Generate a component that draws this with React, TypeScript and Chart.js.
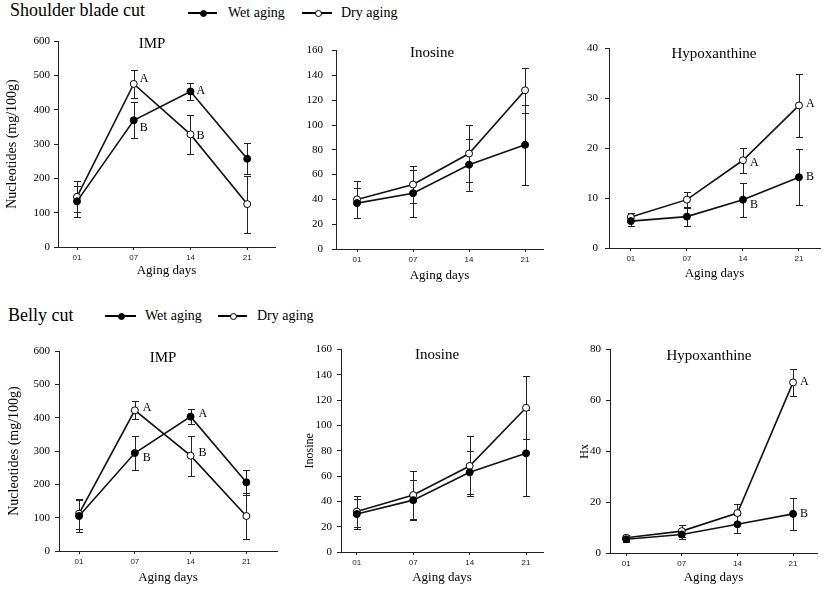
import React, { useEffect, useRef } from 'react';
import { Chart, registerables } from 'chart.js';

Chart.register(...registerables);

// ---------- data ----------
const days = ['01', '07', '14', '21'];
const dayIndex = [0, 1, 2, 3];

// Shoulder blade cut
const shImpWet = [133, 369, 453, 257];
const shImpWetErr = [45, 52, 26, 45];
const shImpDry = [146, 475, 328, 125];
const shImpDryErr = [45, 40, 57, 83];
const shImpWetLetters = ['', 'B', 'A', ''];
const shImpDryLetters = ['', 'A', 'B', ''];

const shInoWet = [37, 45, 68, 84];
const shInoWetErr = [12, 19, 21, 32];
const shInoDry = [40, 52, 77, 128];
const shInoDryErr = [15, 15, 23, 18];

const shHxWet = [5.4, 6.3, 9.7, 14.2];
const shHxWetErr = [1.0, 1.9, 3.4, 5.6];
const shHxDry = [6.2, 9.7, 17.6, 28.6];
const shHxDryErr = [0.8, 1.6, 2.5, 6.3];
const shHxWetLetters = ['', '', 'B', 'B'];
const shHxDryLetters = ['', '', 'A', 'A'];

// Belly cut
const beImpWet = [105, 294, 403, 206];
const beImpWetErr = [48, 50, 22, 38];
const beImpDry = [112, 422, 286, 105];
const beImpDryErr = [45, 27, 60, 68];
const beImpWetLetters = ['', 'B', 'A', ''];
const beImpDryLetters = ['', 'A', 'B', ''];

const beInoWet = [30, 41, 63, 78];
const beInoWetErr = [12, 16, 17, 34];
const beInoDry = [32, 45, 68, 114];
const beInoDryErr = [12, 19, 24, 25];

const beHxWet = [5.4, 7.3, 11.3, 15.4];
const beHxWetErr = [1.0, 1.8, 3.6, 6.2];
const beHxDry = [6.0, 8.6, 15.7, 67.1];
const beHxDryErr = [1.2, 2.3, 3.6, 5.3];
const beHxWetLetters = ['', '', '', 'B'];
const beHxDryLetters = ['', '', '', 'A'];

const none = ['', '', '', ''];
const zeroDy = [0, 0, 0, 0];

// ---------- types ----------
type Box = { l: number; t: number; r: number; b: number };
type SeriesCfg = {
  label: string;
  values: number[];
  errors: number[];
  letters: string[];
  letterDy: number[];
  filled: boolean;
};
type PanelCfg = {
  box: Box;
  canvas: Box;
  xMin: number;
  xMax: number;
  yMax: number;
  yStep: number;
  tickGap: number;
  title: string;
  titleDx: number;
  titleDy: number;
  letterDx: number;
  yTitle?: string;
  yTitleSize?: number;
  yTitleCx?: number;
  series: SeriesCfg[];
};

const SERIF = "'Liberation Serif', 'Times New Roman', serif";
const SANS = "'Liberation Sans', Arial, sans-serif";

// ---------- plugins ----------
const errorBarPlugin = {
  id: 'errbars',
  beforeDatasetsDraw(chart: any) {
    const { ctx } = chart;
    const ys = chart.scales.y;
    chart.data.datasets.forEach((ds: any, di: number) => {
      const errs: number[] = ds.errors;
      if (!errs) return;
      const meta = chart.getDatasetMeta(di);
      ds.data.forEach((pt: any, i: number) => {
        const el = meta.data[i];
        if (!el) return;
        const px = Math.round(el.x) + 0.5;
        const top = Math.round(ys.getPixelForValue(pt.y + errs[i])) + 0.5;
        const bot = Math.round(ys.getPixelForValue(Math.max(0, pt.y - errs[i]))) + 0.5;
        ctx.save();
        ctx.strokeStyle = '#222';
        ctx.lineWidth = 1;
        ctx.beginPath();
        ctx.moveTo(px, top);
        ctx.lineTo(px, bot);
        ctx.moveTo(px - 3.5, top);
        ctx.lineTo(px + 3.5, top);
        ctx.moveTo(px - 3.5, bot);
        ctx.lineTo(px + 3.5, bot);
        ctx.stroke();
        ctx.restore();
      });
    });
  },
};

const annotationPlugin = {
  id: 'annot',
  afterDatasetsDraw(chart: any) {
    const { ctx, chartArea } = chart;
    const cfg = chart.options.plugins.annot || {};
    ctx.save();
    // panel title
    ctx.fillStyle = '#000';
    ctx.font = `15px ${SERIF}`;
    ctx.textAlign = 'center';
    ctx.textBaseline = 'middle';
    ctx.fillText(cfg.title, chartArea.left + cfg.titleDx, chartArea.top + cfg.titleDy);
    // significance letters
    ctx.font = `12px ${SERIF}`;
    ctx.textAlign = 'left';
    chart.data.datasets.forEach((ds: any, di: number) => {
      const meta = chart.getDatasetMeta(di);
      (ds.letters || []).forEach((txt: string, i: number) => {
        if (!txt) return;
        const el = meta.data[i];
        ctx.fillText(txt, el.x + cfg.letterDx, el.y + (ds.letterDy ? ds.letterDy[i] : 0));
      });
    });
    ctx.restore();
  },
};

// ---------- panel ----------
function Panel({ cfg }: { cfg: PanelCfg }) {
  const ref = useRef<HTMLCanvasElement | null>(null);
  const w = cfg.canvas.r - cfg.canvas.l;
  const h = cfg.canvas.b - cfg.canvas.t;

  useEffect(() => {
    if (!ref.current) return;
    const yTitleSize = cfg.yTitleSize || 14;
    const yLh = yTitleSize * 1.2;
    const yTitlePad = cfg.yTitleCx !== undefined ? cfg.yTitleCx - cfg.canvas.l - yLh / 2 : 0;
    const chart = new Chart(ref.current, {
      type: 'line',
      data: {
        datasets: cfg.series.map((s) => ({
          label: s.label,
          data: dayIndex.map((d, i) => ({ x: d, y: s.values[i] })),
          errors: s.errors,
          letters: s.letters,
          letterDy: s.letterDy,
          borderColor: '#111',
          borderWidth: 1.6,
          pointRadius: 3.5,
          pointBorderWidth: 1,
          pointBorderColor: '#000',
          pointBackgroundColor: s.filled ? '#000' : '#fff',
          fill: false,
          tension: 0,
          clip: false,
        })) as any,
      },
      options: {
        responsive: false,
        animation: false,
        devicePixelRatio: 1,
        events: [],
        layout: {
          padding: {
            top: cfg.box.t - cfg.canvas.t,
            right: cfg.canvas.r - cfg.box.r,
            left: 0,
            bottom: 0,
          },
        },
        plugins: {
          legend: { display: false },
          tooltip: { enabled: false },
          title: { display: false },
          annot: {
            title: cfg.title,
            titleDx: cfg.titleDx,
            titleDy: cfg.titleDy,
            letterDx: cfg.letterDx,
          },
        } as any,
        scales: {
          x: {
            type: 'linear',
            min: cfg.xMin,
            max: cfg.xMax,
            afterBuildTicks: (s: any) => {
              s.ticks = dayIndex.map((v) => ({ value: v }));
            },
            afterFit: (s: any) => {
              s.height = cfg.canvas.b - cfg.box.b;
            },
            grid: { drawOnChartArea: false, drawTicks: true, tickLength: 3, color: '#222' },
            border: { display: true, color: '#222', width: 1 },
            ticks: {
              callback: (v: any) => days[v] ?? '',
              font: { family: SANS, size: 8 },
              color: '#222',
              padding: 3,
              maxRotation: 0,
              autoSkip: false,
            },
            title: {
              display: true,
              text: 'Aging days',
              font: { family: SERIF, size: 13 },
              color: '#000',
              padding: { top: 0, bottom: 0 },
            },
          },
          y: {
            min: 0,
            max: cfg.yMax,
            afterFit: (s: any) => {
              s.width = cfg.box.l - cfg.canvas.l;
            },
            grid: { drawOnChartArea: false, drawTicks: true, tickLength: 4, color: '#222' },
            border: { display: true, color: '#222', width: 1 },
            ticks: {
              stepSize: cfg.yStep,
              font: { family: SERIF, size: 11 },
              color: '#000',
              padding: cfg.tickGap - 4,
            },
            title: {
              display: !!cfg.yTitle,
              text: cfg.yTitle || '',
              font: { family: SERIF, size: yTitleSize },
              color: '#000',
              padding: { top: yTitlePad, bottom: 0 },
            },
          },
        },
      } as any,
      plugins: [errorBarPlugin, annotationPlugin],
    });
    return () => chart.destroy();
  }, [cfg]);

  return (
    <canvas
      ref={ref}
      width={w}
      height={h}
      style={{ position: 'absolute', left: cfg.canvas.l, top: cfg.canvas.t, width: w, height: h }}
    />
  );
}

// ---------- legend (HTML) ----------
function LegendMark({ x1, x2, cx, y, filled }: { x1: number; x2: number; cx: number; y: number; filled: boolean }) {
  return (
    <>
      <div style={{ position: 'absolute', left: x1, top: y - 0.75, width: x2 - x1, height: 1.5, background: '#000' }} />
      <div
        style={{
          position: 'absolute',
          left: cx - 3.5,
          top: y - 3.5,
          width: 7,
          height: 7,
          boxSizing: 'border-box',
          border: '1px solid #000',
          borderRadius: '50%',
          background: filled ? '#000' : '#fff',
        }}
      />
    </>
  );
}

const textStyle = (left: number, top: number, size: number): React.CSSProperties => ({
  position: 'absolute',
  left,
  top,
  fontFamily: SERIF,
  fontSize: size,
  lineHeight: `${size}px`,
  color: '#000',
  whiteSpace: 'nowrap',
});

// ---------- panel configs ----------
const panels: PanelCfg[] = [
  {
    box: { l: 58, t: 41, r: 275, b: 247 },
    canvas: { l: 0, t: 30, r: 280, b: 278 },
    xMin: -0.335, xMax: 3.49, yMax: 600, yStep: 100, tickGap: 8,
    title: 'IMP', titleDx: 94, titleDy: 3, letterDx: 6,
    yTitle: 'Nucleotides (mg/100g)', yTitleSize: 14, yTitleCx: 12.5,
    series: [
      { label: 'Wet aging', values: shImpWet, errors: shImpWetErr, letters: shImpWetLetters, letterDy: [0, 8, -1, 0], filled: true },
      { label: 'Dry aging', values: shImpDry, errors: shImpDryErr, letters: shImpDryLetters, letterDy: [0, -5, 1, 0], filled: false },
    ],
  },
  {
    box: { l: 336, t: 46, r: 543, b: 249 },
    canvas: { l: 290, t: 35, r: 548, b: 283 },
    xMin: -0.375, xMax: 3.32, yMax: 160, yStep: 20, tickGap: 13,
    title: 'Inosine', titleDx: 96, titleDy: 2, letterDx: 7,
    series: [
      { label: 'Wet aging', values: shInoWet, errors: shInoWetErr, letters: none, letterDy: zeroDy, filled: true },
      { label: 'Dry aging', values: shInoDry, errors: shInoDryErr, letters: none, letterDy: zeroDy, filled: false },
    ],
  },
  {
    box: { l: 609, t: 45, r: 820, b: 248 },
    canvas: { l: 565, t: 35, r: 825, b: 281 },
    xMin: -0.39, xMax: 3.375, yMax: 40, yStep: 10, tickGap: 11,
    title: 'Hypoxanthine', titleDx: 105, titleDy: 5, letterDx: 7,
    series: [
      { label: 'Wet aging', values: shHxWet, errors: shHxWetErr, letters: shHxWetLetters, letterDy: [0, 0, 5, 0], filled: true },
      { label: 'Dry aging', values: shHxDry, errors: shHxDryErr, letters: shHxDryLetters, letterDy: [0, 0, 3, -2], filled: false },
    ],
  },
  {
    box: { l: 59, t: 351, r: 277, b: 551 },
    canvas: { l: 0, t: 338, r: 282, b: 585 },
    xMin: -0.36, xMax: 3.55, yMax: 600, yStep: 100, tickGap: 9,
    title: 'IMP', titleDx: 104, titleDy: 7, letterDx: 8,
    yTitle: 'Nucleotides (mg/100g)', yTitleSize: 14, yTitleCx: 14,
    series: [
      { label: 'Wet aging', values: beImpWet, errors: beImpWetErr, letters: beImpWetLetters, letterDy: [0, 5, -3, 0], filled: true },
      { label: 'Dry aging', values: beImpDry, errors: beImpDryErr, letters: beImpDryLetters, letterDy: [0, -2, -3, 0], filled: false },
    ],
  },
  {
    box: { l: 341, t: 348, r: 543, b: 552 },
    canvas: { l: 296, t: 338, r: 548, b: 585 },
    xMin: -0.28, xMax: 3.3, yMax: 160, yStep: 20, tickGap: 9,
    title: 'Inosine', titleDx: 96, titleDy: 5, letterDx: 7,
    yTitle: 'Inosine', yTitleSize: 12, yTitleCx: 309.5,
    series: [
      { label: 'Wet aging', values: beInoWet, errors: beInoWetErr, letters: none, letterDy: zeroDy, filled: true },
      { label: 'Dry aging', values: beInoDry, errors: beInoDryErr, letters: none, letterDy: zeroDy, filled: false },
    ],
  },
  {
    box: { l: 610, t: 349, r: 817, b: 553 },
    canvas: { l: 570, t: 338, r: 825, b: 585 },
    xMin: -0.29, xMax: 3.43, yMax: 80, yStep: 20, tickGap: 9,
    title: 'Hypoxanthine', titleDx: 99, titleDy: 6, letterDx: 7,
    yTitle: 'Hx', yTitleSize: 12, yTitleCx: 584.5,
    series: [
      { label: 'Wet aging', values: beHxWet, errors: beHxWetErr, letters: beHxWetLetters, letterDy: [0, 0, 0, 0], filled: true },
      { label: 'Dry aging', values: beHxDry, errors: beHxDryErr, letters: beHxDryLetters, letterDy: [0, 0, 0, -1], filled: false },
    ],
  },
];

export default function App() {
  return (
    <div style={{ position: 'absolute', left: 0, top: 0, width: 827, height: 589, background: '#fff', overflow: 'hidden' }}>
      <div style={textStyle(10, 1, 18)}>Shoulder blade cut</div>
      <LegendMark x1={188} x2={217} cx={203} y={13} filled={true} />
      <div style={textStyle(228, 6, 14)}>Wet aging</div>
      <LegendMark x1={302} x2={332} cx={318} y={13} filled={false} />
      <div style={textStyle(341, 6, 14)}>Dry aging</div>

      <div style={textStyle(8, 306, 18)}>Belly cut</div>
      <LegendMark x1={105} x2={136} cx={121} y={316} filled={true} />
      <div style={textStyle(145, 309, 14)}>Wet aging</div>
      <LegendMark x1={218} x2={247} cx={233} y={316} filled={false} />
      <div style={textStyle(257, 309, 14)}>Dry aging</div>

      {panels.map((p, i) => (
        <Panel key={i} cfg={p} />
      ))}
    </div>
  );
}
